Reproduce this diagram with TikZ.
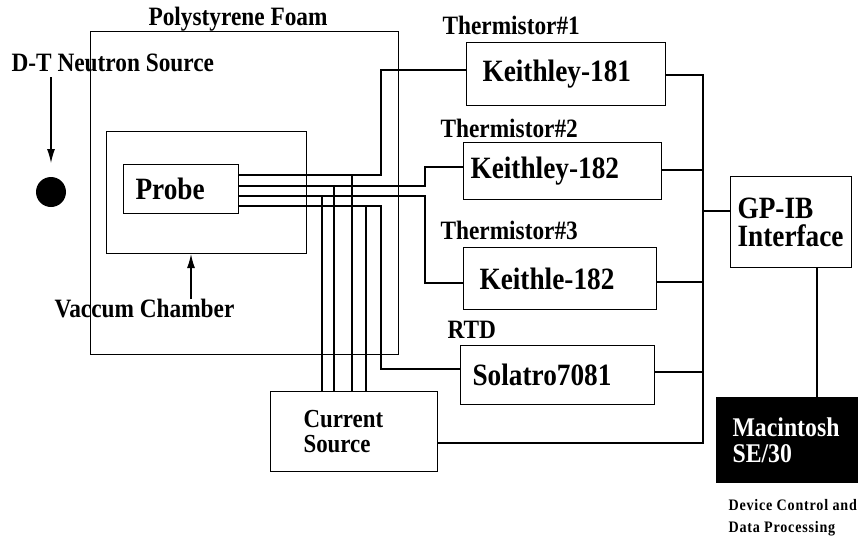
\documentclass[tikz,border=0pt]{standalone}
\usepackage{fontspec}
\setmainfont[FakeStretch=0.88]{Liberation Serif}
\usepackage{tikz}
\usetikzlibrary{positioning,arrows.meta}

\begin{document}
\begin{tikzpicture}[x=1pt,y=-1pt,line width=1.1pt,
	lbl/.style={font=\fontsize{26.5}{27}\selectfont\bfseries, anchor=west, inner sep=0pt},
	box/.style={draw, anchor=north west, align=left, inner ysep=0pt,
		font=\fontsize{31}{28}\selectfont\bfseries},
	frame/.style={draw, anchor=north west, inner sep=0pt}]
	
	\useasboundingbox (0,0) rectangle (858,543);
	
	\node[frame, minimum width=308pt, minimum height=323pt] (foam) at (90,31) {};
	\node[frame, minimum width=200pt, minimum height=122pt] (chamber) at (106,131) {};
	\node[lbl] (foamlbl) at (148,19) {Polystyrene Foam};
	\node[lbl] (source) at (11,63) {D-T Neutron Source};
	\node[circle, fill, minimum size=30pt, inner sep=0pt] (target) at (51,192) {};
	\node[lbl] (chamberlbl) at (54,309) {Vaccum Chamber};
	
	\node[box, text width=91pt, inner xsep=12pt, minimum height=49pt] (probe) at (123,164) {Probe};
	
	\node[lbl] (therm1) at (442,25) {Thermistor\#1};
	\node[box, text width=167pt, inner xsep=16pt, minimum height=63pt] (k181) at (466,42) {Keithley-181};
	\node[lbl] (therm2) at (440,128) {Thermistor\#2};
	\node[box, text width=184pt, inner xsep=7pt, minimum height=57pt] (k182) at (463,142) {Keithley-182};
	\node[lbl] (therm3) at (440,230) {Thermistor\#3};
	\node[box, text width=161pt, inner xsep=16pt, minimum height=62pt] (k182b) at (463,247) {Keithle-182};
	\node[lbl] (rtd) at (447,330) {RTD};
	\node[box, text width=170pt, inner xsep=12pt, minimum height=59pt] (rtdmeter) at (460,345) {Solatro7081};
	
	\node[box, text width=101pt, inner xsep=33pt, minimum height=80pt,
		font=\fontsize{26}{24.5}\selectfont\bfseries] (current) at (270,391) {Current\\Source};
	\node[box, text width=107pt, inner xsep=7pt, minimum height=91pt] (gpib) at (730,176) {GP-IB\\Interface};
	\node[box, fill=black, text=white, text width=110pt, inner xsep=16pt, minimum height=85pt,
		font=\fontsize{27}{26.5}\selectfont\bfseries] (mac) at (716,397) {Macintosh\\SE/30};
	\node[lbl, anchor=north west, align=left,
		font=\fontsize{16}{22}\selectfont\bfseries\addfontfeature{LetterSpace=5}] (control) at (728,499) {Device Control and\\Data Processing};
	
	\coordinate (p1) at (238,175);
	\coordinate (p2) at (238,186);
	\coordinate (p3) at (238,196);
	\coordinate (p4) at (238,206);
	\coordinate (riseA) at (381,0);
	\coordinate (riseB) at (425,0);
	\coordinate (bus) at (703,0);
	\coordinate (macline) at (817,0);
	
	\draw[-{Latex[length=14pt,width=8pt]}] (target.north |- 0,77) -- (target.north |- 0,163);
	\draw[-{Latex[length=14pt,width=8pt]}] (chamberlbl.north -| 191,0) -- (chamber.south -| 191,0);
	
	\draw (p1) -| (riseA |- 0,70) -- (k181.west |- 0,70);
	\draw (p2) -| (riseB |- 0,167) -- (k182.west |- 0,167);
	\draw (p3) -| (riseB |- 0,283) -- (k182b.west |- 0,283);
	\draw (p4) -| (riseA |- 0,369) -- (rtdmeter.west |- 0,369);
	
	\draw (current.north -| 322,0) -- (322,196);
	\draw (current.north -| 334,0) -- (334,186);
	\draw (current.north -| 352,0) -- (352,175);
	\draw (current.north -| 366,0) -- (366,206);
	
	\draw (k181.east |- 0,75) -| (bus |- 0,443) -- (current.east |- 0,443);
	\draw (k182.east |- 0,170) -- (bus |- 0,170);
	\draw (k182b.east |- 0,282) -- (bus |- 0,282);
	\draw (rtdmeter.east |- 0,372) -- (bus |- 0,372);
	\draw (bus |- 0,211) -- (gpib.west |- 0,211);
	\draw (gpib.south -| macline) -- (mac.north -| macline);
	
\end{tikzpicture}
\end{document}
